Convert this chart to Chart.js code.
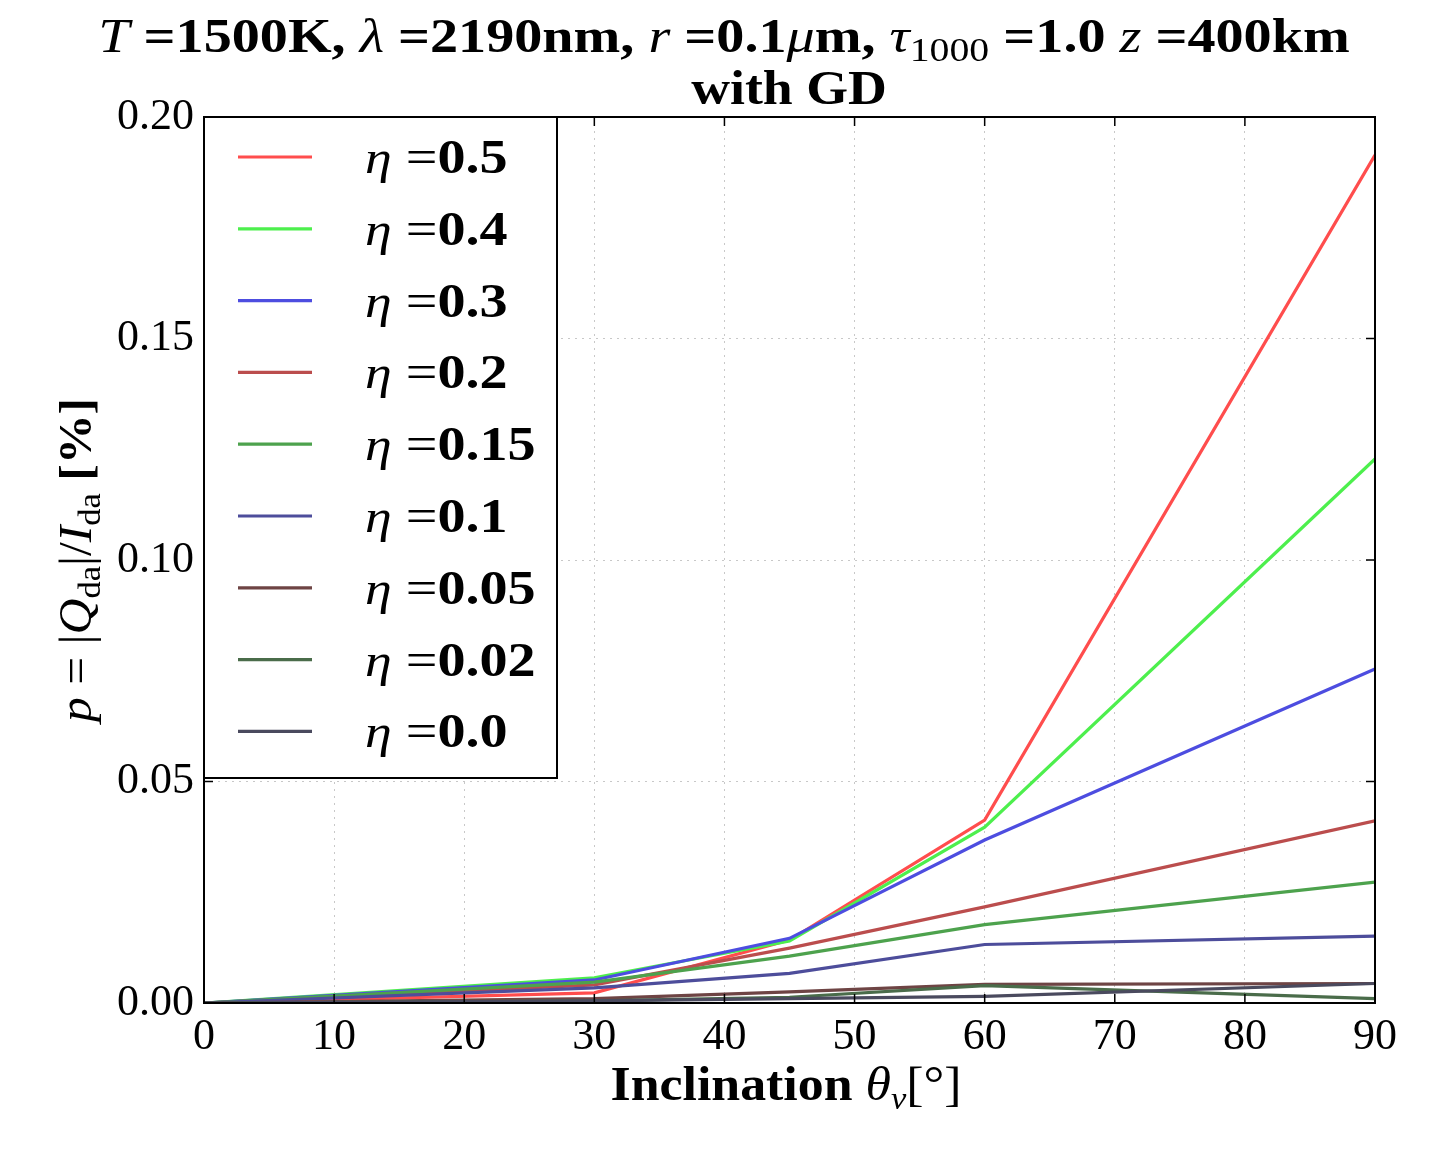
<!DOCTYPE html>
<html>
<head>
<meta charset="utf-8">
<script src="https://cdn.jsdelivr.net/npm/chart.js@4.4.0/dist/chart.umd.min.js"></script>
<style>
html,body{margin:0;padding:0;background:#fff;}
#wrap{width:1451px;height:1174px;position:relative;}
</style>
</head>
<body>
<div id="wrap"><canvas id="c" width="1451" height="1174"></canvas></div>
<script>
// ---- data ----
const inclinations = [0, 30, 45, 60, 90];
const etaLabels = ['0.5', '0.4', '0.3', '0.2', '0.15', '0.1', '0.05', '0.02', '0.0'];
const eta050 = [0, 0.0023, 0.0142, 0.0413, 0.1914];
const eta040 = [0, 0.0057, 0.0140, 0.0397, 0.1228];
const eta030 = [0, 0.0052, 0.0146, 0.0368, 0.0754];
const eta020 = [0, 0.0041, 0.0124, 0.0217, 0.0411];
const eta015 = [0, 0.0047, 0.0106, 0.0177, 0.0273];
const eta010 = [0, 0.0034, 0.0067, 0.0132, 0.0151];
const eta005 = [0, 0.0010, 0.0025, 0.0042, 0.0044];
const eta002 = [0, 0.0005, 0.0013, 0.0039, 0.0010];
const eta000 = [0, 0.0005, 0.0010, 0.0015, 0.0044];
const xTicks = [0, 10, 20, 30, 40, 50, 60, 70, 80, 90];
const yTicks = [0.00, 0.05, 0.10, 0.15, 0.20];

const seriesValues = [eta050, eta040, eta030, eta020, eta015, eta010, eta005, eta002, eta000];
const seriesColors = ['#ff4d4d', '#4def4d', '#4d4de0', '#bb4d4d', '#4da24d', '#4d4d9b', '#6e4444', '#4a6c4a', '#4a4a5e'];

const SERIF = '"Liberation Serif", "DejaVu Serif", serif';

const datasets = seriesValues.map((vals, i) => ({
  label: 'η =' + etaLabels[i],
  data: vals.map((v, j) => ({x: inclinations[j], y: v})),
  borderColor: seriesColors[i],
  backgroundColor: seriesColors[i],
  borderWidth: 3.2,
  pointRadius: 0,
  tension: 0,
  fill: false,
  order: -i
}));

// rich text helper with optional horizontal stretch
function fontOf(s, baseSize) {
  const size = s.size || baseSize;
  return (s.italic ? 'italic ' : '') + (s.bold ? 'bold ' : '') + size + 'px ' + SERIF;
}
function drawRich(ctx, segs, x, y, align, baseSize, hs) {
  hs = hs || 1;
  let total = 0;
  const m = segs.map(s => {
    ctx.font = fontOf(s, baseSize);
    const w = ctx.measureText(s.t).width;
    total += w;
    return {s, w};
  });
  const tw = total * hs;
  let sx = align === 'center' ? x - tw / 2 : (align === 'right' ? x - tw : x);
  ctx.save();
  ctx.translate(sx, y);
  ctx.scale(hs, 1);
  ctx.textAlign = 'left';
  ctx.textBaseline = 'alphabetic';
  let cx = 0;
  m.forEach(({s, w}) => {
    ctx.font = fontOf(s, baseSize);
    ctx.fillText(s.t, cx, s.dy || 0);
    cx += w;
  });
  ctx.restore();
  return tw;
}

const decorPlugin = {
  id: 'decor',
  afterDraw(chart) {
    const ctx = chart.ctx;
    const {left, right, top, bottom} = chart.chartArea;
    const xs = chart.scales.x, ys = chart.scales.y;
    ctx.save();
    // inward ticks
    ctx.strokeStyle = '#000';
    ctx.lineWidth = 1.5;
    xTicks.forEach(v => {
      const px = xs.getPixelForValue(v);
      ctx.beginPath();
      ctx.moveTo(px, bottom); ctx.lineTo(px, bottom - 9);
      ctx.moveTo(px, top); ctx.lineTo(px, top + 9);
      ctx.stroke();
    });
    yTicks.forEach(v => {
      const py = ys.getPixelForValue(v);
      ctx.beginPath();
      ctx.moveTo(left, py); ctx.lineTo(left + 9, py);
      ctx.moveTo(right, py); ctx.lineTo(right - 9, py);
      ctx.stroke();
    });
    // frame
    ctx.lineWidth = 2;
    ctx.strokeRect(left, top, right - left, bottom - top);

    // legend box
    const lx0 = left, ly0 = top, lw = 353, lh = 661;
    ctx.fillStyle = '#fff';
    ctx.fillRect(lx0, ly0, lw, lh);
    ctx.strokeStyle = '#000';
    ctx.lineWidth = 2;
    ctx.strokeRect(lx0, ly0, lw, lh);
    chart.data.datasets.forEach((ds, i) => {
      const y = ly0 + 40 + i * 71.8;
      ctx.strokeStyle = ds.borderColor;
      ctx.lineWidth = 3.2;
      ctx.beginPath();
      ctx.moveTo(lx0 + 34, y); ctx.lineTo(lx0 + 108, y);
      ctx.stroke();
      ctx.fillStyle = '#000';
      drawRich(ctx, [
        {t: 'η', italic: true, size: 46},
        {t: ' =', size: 48},
        {t: etaLabels[i], bold: true, size: 48}
      ], lx0 + 161, y + 16, 'left', 48, 1.17);
    });

    // title
    ctx.fillStyle = '#000';
    drawRich(ctx, [
      {t: 'T', italic: true},
      {t: ' =1500K, ', bold: true},
      {t: 'λ', italic: true},
      {t: ' =2190nm, ', bold: true},
      {t: 'r', italic: true},
      {t: ' =0.1', bold: true},
      {t: 'μ', italic: true},
      {t: 'm, ', bold: true},
      {t: 'τ', italic: true},
      {t: '1000', size: 34, dy: 9},
      {t: ' =1.0 ', bold: true},
      {t: 'z', italic: true},
      {t: ' =400km', bold: true}
    ], 724, 52, 'center', 48, 1.17);
    drawRich(ctx, [{t: 'with GD', bold: true}], 789, 104, 'center', 48, 1.12);

    // x axis title
    drawRich(ctx, [
      {t: 'Inclination ', bold: true},
      {t: 'θ', italic: true},
      {t: 'v', italic: true, size: 32, dy: 9},
      {t: '[°]'}
    ], 786, 1100, 'center', 48, 1.08);

    // y axis title
    ctx.save();
    ctx.translate(91, 560);
    ctx.rotate(-Math.PI / 2);
    drawRich(ctx, [
      {t: 'p', italic: true},
      {t: ' = |'},
      {t: 'Q', italic: true},
      {t: 'da', size: 32, dy: 9},
      {t: '|/'},
      {t: 'I', italic: true},
      {t: 'da', size: 32, dy: 9},
      {t: ' [%]', bold: true}
    ], 0, 0, 'center', 46, 1.08);
    ctx.restore();
    ctx.restore();
  }
};

new Chart(document.getElementById('c'), {
  type: 'line',
  data: {datasets},
  options: {
    responsive: false,
    animation: false,
    devicePixelRatio: 1,
    layout: {padding: {left: 0, right: 76, top: 117, bottom: 0}},
    plugins: {legend: {display: false}, title: {display: false}, tooltip: {enabled: false}},
    scales: {
      x: {
        type: 'linear', min: 0, max: 90,
        afterBuildTicks: s => { s.ticks = xTicks.map(v => ({value: v})); },
        afterFit: s => { s.height = 171; },
        grid: {color: '#c8c8c8', lineWidth: 1, drawTicks: false, tickLength: 0},
        border: {display: false, dash: [2, 5]},
        ticks: {color: '#000', font: {family: SERIF, size: 44}, padding: 8, maxRotation: 0,
          callback: v => String(v)}
      },
      y: {
        type: 'linear', min: 0, max: 0.2,
        afterBuildTicks: s => { s.ticks = yTicks.map(v => ({value: v})); },
        afterFit: s => { s.width = 204; },
        grid: {color: '#c8c8c8', lineWidth: 1, drawTicks: false, tickLength: 0},
        border: {display: false, dash: [2, 5]},
        ticks: {color: '#000', font: {family: SERIF, size: 44}, padding: 10,
          callback: v => Number(v).toFixed(2)}
      }
    }
  },
  plugins: [decorPlugin]
});
</script>
</body>
</html>
